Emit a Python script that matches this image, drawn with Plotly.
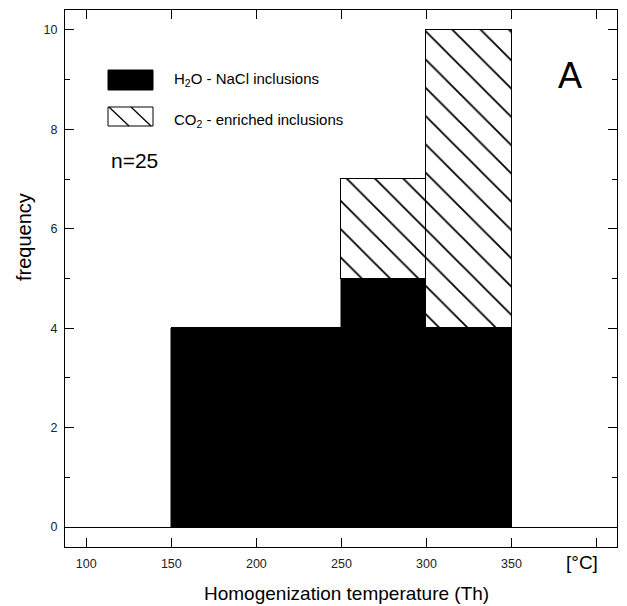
import plotly.graph_objects as go

# ---- data ----
bin_centers = [175, 225, 275, 325]   # temperature bins (°C), 50 wide
bin_width = 50
h2o_nacl = [4, 4, 5, 4]              # H2O - NaCl inclusions
co2_enriched = [0, 0, 2, 6]          # CO2-enriched inclusions
x_tickvals = [100, 150, 200, 250, 300, 350, 400]
x_ticktext = ["100", "150", "200", "250", "300", "350", ""]
y_tickvals = [0, 2, 4, 6, 8, 10]

W, H = 627, 606
L, R, T, B = 65, 10, 10, 59
PW, PH = W - L - R, H - T - B

def px(x):
    return (x - L) / PW

def py(y):
    return (H - B - y) / PH

FONT = "Liberation Sans, Arial, Helvetica, sans-serif"

fig = go.Figure()
fig.add_trace(go.Bar(
    x=bin_centers, y=h2o_nacl, width=[bin_width] * len(bin_centers),
    marker=dict(color="black", line=dict(color="black", width=0.5)),
    showlegend=False,
))
fig.add_trace(go.Bar(
    x=bin_centers, y=co2_enriched, width=[bin_width] * len(bin_centers),
    marker=dict(color="white", line=dict(color="black", width=1),
                pattern=dict(shape="\\", size=20, solidity=0.09,
                             fgcolor="black", bgcolor="white", fgopacity=1)),
    showlegend=False,
))

shapes = []
# legend swatches
shapes.append(dict(type="rect", xref="paper", yref="paper",
                   x0=px(108), x1=px(153), y0=py(90), y1=py(70),
                   fillcolor="black", line=dict(color="black", width=1)))
shapes.append(dict(type="rect", xref="paper", yref="paper",
                   x0=px(108), x1=px(153), y0=py(126), y1=py(107),
                   fillcolor="white", line=dict(color="black", width=1)))
for x0 in (109, 131):
    shapes.append(dict(type="line", xref="paper", yref="paper",
                       x0=px(x0), x1=px(x0 + 20), y0=py(107), y1=py(126),
                       line=dict(color="black", width=1.3)))

annotations = [
    dict(text="H<sub>2</sub>O - NaCl inclusions", x=px(172), y=py(79),
         xanchor="left", yanchor="middle", font=dict(size=15)),
    dict(text="CO<sub>2</sub> - enriched inclusions", x=px(172), y=py(121),
         xanchor="left", yanchor="middle", font=dict(size=15)),
    dict(text="n=25", x=px(109), y=py(160), xanchor="left", yanchor="middle",
         font=dict(size=21)),
    dict(text="A", x=px(570), y=py(75), xanchor="center", yanchor="middle",
         font=dict(size=36)),
    dict(text="frequency", x=px(24), y=py(237), xanchor="center", yanchor="middle",
         textangle=-90, font=dict(size=20)),
    dict(text="Homogenization temperature (Th)", x=px(346), y=py(593),
         xanchor="center", yanchor="middle", font=dict(size=19)),
    dict(text="[°C]", x=px(582), y=py(562), xanchor="center", yanchor="middle",
         font=dict(size=19)),
]
for a in annotations:
    a.update(xref="paper", yref="paper", showarrow=False)
    a["font"].update(family=FONT, color="black")

fig.update_layout(
    width=W, height=H,
    margin=dict(l=L, r=R, t=T, b=B),
    paper_bgcolor="white", plot_bgcolor="white",
    barmode="stack", bargap=0,
    shapes=shapes, annotations=annotations,
    font=dict(family=FONT, color="#222"),
    xaxis=dict(range=[87.5, 412], tickvals=x_tickvals, ticktext=x_ticktext,
               ticks="inside", ticklen=9, tickcolor="black", tickwidth=1,
               showline=True, linecolor="black", linewidth=1.3, mirror="ticks",
               showgrid=False, zeroline=False, ticklabelstandoff=5,
               tickfont=dict(size=12.5, color="#222")),
    yaxis=dict(range=[-0.4, 10.4], tickvals=y_tickvals,
               ticks="inside", ticklen=9, tickcolor="black", tickwidth=1,
               minor=dict(ticks="inside", ticklen=5, dtick=1, tick0=1,
                          tickcolor="black", showgrid=False),
               showline=True, linecolor="black", linewidth=1.3, mirror="ticks",
               showgrid=False, zeroline=True, zerolinecolor="black", zerolinewidth=1,
               ticklabelstandoff=4,
               tickfont=dict(size=12.5, color="#222")),
)

fig.write_html("out.html", config={"displayModeBar": False},
               post_script="document.body.style.margin='0';document.body.style.padding='0';")
